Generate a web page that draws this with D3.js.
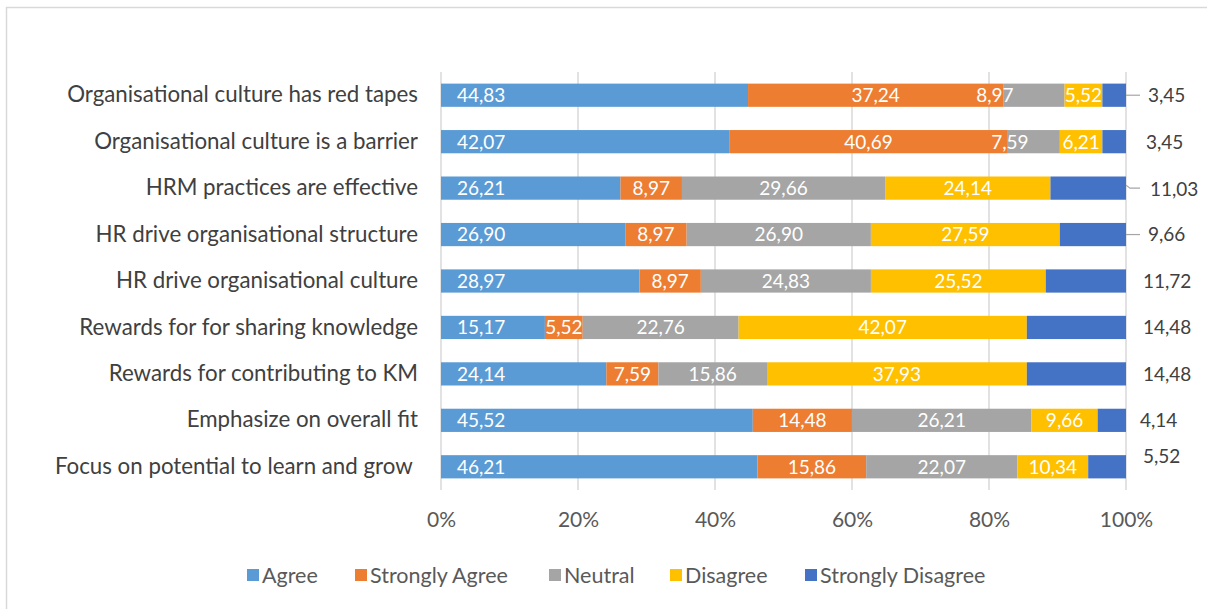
<!DOCTYPE html>
<html>
<head>
<meta charset="utf-8">
<script src="https://cdn.jsdelivr.net/npm/d3@7"></script>
<style>
  html, body { margin: 0; padding: 0; background: #fff; }
  svg { display: block; }
  text { font-family: Lato, "Open Sans", sans-serif; }
</style>
</head>
<body>
<svg id="chart" width="1207" height="609"></svg>
<script>
// ---- data ----
const categories = [
  "Organisational culture has red tapes",
  "Organisational culture is a barrier",
  "HRM practices are effective",
  "HR drive organisational structure",
  "HR drive organisational culture",
  "Rewards for for sharing knowledge",
  "Rewards for contributing to KM",
  "Emphasize on overall fit",
  "Focus on potential to learn and grow "
];
const seriesNames = ["Agree", "Strongly Agree", "Neutral", "Disagree", "Strongly Disagree"];
const agree          = [44.83, 42.07, 26.21, 26.90, 28.97, 15.17, 24.14, 45.52, 46.21];
const stronglyAgree  = [37.24, 40.69,  8.97,  8.97,  8.97,  5.52,  7.59, 14.48, 15.86];
const neutral        = [ 8.97,  7.59, 29.66, 26.90, 24.83, 22.76, 15.86, 26.21, 22.07];
const disagree       = [ 5.52,  6.21, 24.14, 27.59, 25.52, 42.07, 37.93,  9.66, 10.34];
const stronglyDis    = [ 3.45,  3.45, 11.03,  9.66, 11.72, 14.48, 14.48,  4.14,  5.52];
const xTicks = [0, 0.2, 0.4, 0.6, 0.8, 1.0];

// ---- styles ----
const colors = ["#5B9BD5", "#ED7D31", "#A5A5A5", "#FFC000", "#4472C4"];
// manual nudges for a few data labels (style only)
const innerNudge = { "0-2": -39, "1-2": -24 };
const outerDx = [0, -2, 2, 0, -5, -5, -5, -8, -5];
const outerDy = [0, 0, 1, 0, 0, 0, 0, 0, -11];
const leaderRows = [0, 2, 3];

const seriesVals = [agree, stronglyAgree, neutral, disagree, stronglyDis];
const rows = categories.map((c, i) => {
  const r = { cat: c };
  seriesNames.forEach((s, k) => r[s] = seriesVals[k][i]);
  return r;
});
const normalized = rows.map(r => {
  const tot = d3.sum(seriesNames, s => r[s]);
  const o = { cat: r.cat };
  seriesNames.forEach(s => o[s] = r[s] / tot);
  return o;
});
const stack = d3.stack().keys(seriesNames)(normalized);

const svg = d3.select("#chart");
const fmt = v => v.toFixed(2).replace(".", ",");

// chart border
svg.append("rect").attr("x", 6.5).attr("y", 7.5).attr("width", 1220).attr("height", 620)
  .attr("fill", "none").attr("stroke", "#D9D9D9").attr("stroke-width", 1.5);

const x = d3.scaleLinear().domain([0, 1]).range([441, 1126]);
const y = d3.scaleBand().domain(categories).range([72, 490]).paddingInner(0.5).paddingOuter(0.25);

// gridlines
svg.append("g").selectAll("line").data(xTicks).join("line")
  .attr("x1", d => x(d)).attr("x2", d => x(d))
  .attr("y1", 72).attr("y2", 490)
  .attr("stroke", "#D9D9D9").attr("stroke-width", 1.5);

// x axis labels
const xAxis = d3.axisBottom(x).tickValues(xTicks).tickFormat(d3.format(".0%")).tickSize(0).tickPadding(0);
const gx = svg.append("g").attr("transform", "translate(0,512)").call(xAxis);
gx.select(".domain").remove();
gx.selectAll("text").attr("fill", "#595959").style("font-size", "21px").style("font-family", "Lato, sans-serif");

// category labels
const yAxis = d3.axisLeft(y).tickSize(0).tickPadding(0);
const gy = svg.append("g").attr("transform", "translate(418,0)").call(yAxis);
gy.select(".domain").remove();
gy.selectAll("text").attr("fill", "#404040").style("font-size", "22.3px")
  .style("font-family", "Lato, sans-serif").style("white-space", "pre");

// bars
const layers = svg.append("g").selectAll("g").data(stack).join("g")
  .attr("fill", (d, k) => colors[k]);
layers.selectAll("rect").data(d => d).join("rect")
  .attr("x", d => x(d[0]))
  .attr("width", d => x(d[1]) - x(d[0]))
  .attr("y", d => y(d.data.cat))
  .attr("height", y.bandwidth());

// inner labels (series 0..3)
stack.forEach((layer, k) => {
  if (k === 4) return;
  layer.forEach((d, i) => {
    const v = seriesVals[k][i];
    const cy = y(d.data.cat) + y.bandwidth() / 2;
    let tx, anchor;
    if (k === 0) { tx = x(d[0]) + 16; anchor = "start"; }
    else { tx = (x(d[0]) + x(d[1])) / 2 + (innerNudge[i + "-" + k] || 0); anchor = "middle"; }
    svg.append("text").attr("x", tx).attr("y", cy).attr("dy", "0.36em")
      .attr("text-anchor", anchor).attr("fill", "#fff")
      .style("font-size", "19px").text(fmt(v));
  });
});

// outer labels for Strongly Disagree
stack[4].forEach((d, i) => {
  const cy = y(d.data.cat) + y.bandwidth() / 2;
  const lx = 1148 + outerDx[i], ly = cy + outerDy[i];
  if (leaderRows.includes(i)) {
    const x0 = x(d[1]);
    const pts = i === 2 ? [[x0, cy - 3], [x0 + 4, cy], [x0 + 14, cy]] : [[x0, cy], [x0 + 14, cy]];
    svg.append("path").attr("d", d3.line()(pts)).attr("fill", "none")
      .attr("stroke", "#A6A6A6").attr("stroke-width", 1.2);
  }
  svg.append("text").attr("x", lx).attr("y", ly).attr("dy", "0.36em")
    .attr("fill", "#404040").style("font-size", "19px").text(fmt(stronglyDis[i]));
});

// legend
const legendX = [247, 355, 549, 670, 805];
const lg = svg.append("g");
seriesNames.forEach((s, k) => {
  lg.append("rect").attr("x", legendX[k]).attr("y", 569).attr("width", 12).attr("height", 12).attr("fill", colors[k]);
  lg.append("text").attr("x", legendX[k] + 15).attr("y", 575).attr("dy", "0.36em")
    .attr("fill", "#595959").style("font-size", "21.5px").text(s);
});
</script>
</body>
</html>
